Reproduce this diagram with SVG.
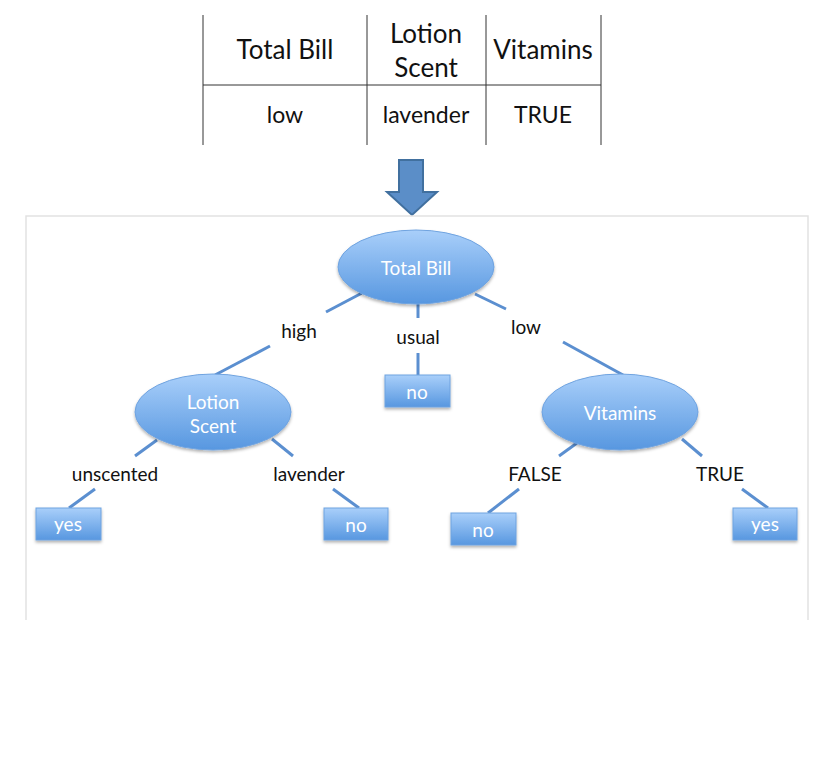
<svg xmlns="http://www.w3.org/2000/svg" width="816" height="764" viewBox="0 0 816 764">
<style>
.tbl{stroke:#333;stroke-width:1;fill:none}
.th{font-family:Lato,"Open Sans",sans-serif;font-size:26px;fill:#111;text-anchor:middle}
.td{font-family:Lato,"Open Sans",sans-serif;font-size:23px;fill:#111;text-anchor:middle}
.frame{stroke:#e2e2e2;stroke-width:1.5;fill:none}
.edge{stroke:#5b8fd0;stroke-width:3;fill:none}
.lbl{font-family:Lato,"Open Sans",sans-serif;font-size:19px;fill:#111;text-anchor:middle}
.nt{font-family:Lato,"Open Sans",sans-serif;font-size:19px;fill:#fff;text-anchor:middle}
.ell{fill:url(#g);stroke:#6fa3e0;stroke-width:1;filter:url(#sh)}
.box{fill:url(#g);stroke:#6fa3e0;stroke-width:1;filter:url(#sh)}
</style>
<defs>
<linearGradient id="g" x1="0" y1="0" x2="0" y2="1">
<stop offset="0" stop-color="#a9cffa"/>
<stop offset="1" stop-color="#5797e0"/>
</linearGradient>
<filter id="sh" x="-20%" y="-20%" width="140%" height="150%">
<feDropShadow dx="0" dy="2" stdDeviation="1.5" flood-color="#000" flood-opacity="0.3"/>
</filter>
</defs>
<rect width="816" height="764" fill="#fff"/>
<g id="table">
<line class="tbl" x1="203" y1="15" x2="203" y2="145"/>
<line class="tbl" x1="367" y1="15" x2="367" y2="145"/>
<line class="tbl" x1="486" y1="15" x2="486" y2="145"/>
<line class="tbl" x1="601" y1="15" x2="601" y2="145"/>
<line class="tbl" x1="203" y1="85" x2="601" y2="85"/>
<text class="th" x="285" y="59">Total Bill</text>
<text class="th" x="426" y="43">Lotion</text>
<text class="th" x="426" y="77">Scent</text>
<text class="th" x="543" y="59">Vitamins</text>
<text class="td" x="285" y="123">low</text>
<text class="td" x="426" y="123">lavender</text>
<text class="td" x="543" y="123">TRUE</text>
</g>
<g id="arrow">
<polygon points="399,160 423,160 423,192 437,192 412,215 387,192 399,192" fill="#5b8ec8" stroke="#41709f" stroke-width="2" stroke-linejoin="miter"/>
</g>
<g id="frame">
<polyline class="frame" points="26,620 26,216 808,216 808,620"/>
</g>
<g id="connectors">
<line class="edge" x1="362" y1="293" x2="326" y2="312"/>
<line class="edge" x1="270" y1="346" x2="215" y2="375"/>
<line class="edge" x1="418" y1="303" x2="418" y2="318"/>
<line class="edge" x1="418" y1="353" x2="418" y2="375"/>
<line class="edge" x1="475" y1="294" x2="506" y2="309"/>
<line class="edge" x1="563" y1="342" x2="623" y2="375"/>
<line class="edge" x1="157" y1="440" x2="135" y2="456"/>
<line class="edge" x1="95" y1="489" x2="69" y2="508"/>
<line class="edge" x1="272" y1="439" x2="293" y2="456"/>
<line class="edge" x1="333" y1="489" x2="359" y2="508"/>
<line class="edge" x1="577" y1="443" x2="559" y2="456"/>
<line class="edge" x1="519" y1="489" x2="488" y2="513"/>
<line class="edge" x1="682" y1="439" x2="702" y2="456"/>
<line class="edge" x1="742" y1="489" x2="768" y2="508"/>
<text class="lbl" x="299" y="338">high</text>
<text class="lbl" x="418" y="344">usual</text>
<text class="lbl" x="526" y="334">low</text>
<text class="lbl" x="115" y="481">unscented</text>
<text class="lbl" x="309" y="481">lavender</text>
<text class="lbl" x="535" y="481">FALSE</text>
<text class="lbl" x="720" y="481">TRUE</text>
</g>
<g id="n-total">
<ellipse class="ell" cx="416" cy="267" rx="78" ry="37"/>
<text class="nt" x="416" y="275">Total Bill</text>
</g>
<g id="n-usual-no">
<rect class="box" x="385" y="375" width="65" height="32"/>
<text class="nt" x="417" y="399">no</text>
</g>
<g id="n-lotion">
<ellipse class="ell" cx="213" cy="412" rx="78" ry="38"/>
<text class="nt" x="213" y="409">Lotion</text>
<text class="nt" x="213" y="433">Scent</text>
</g>
<g id="n-vitamins">
<ellipse class="ell" cx="620" cy="412" rx="78" ry="38"/>
<text class="nt" x="620" y="420">Vitamins</text>
</g>
<g id="n-unscented-yes">
<rect class="box" x="36" y="508" width="65" height="32"/>
<text class="nt" x="68" y="531">yes</text>
</g>
<g id="n-lavender-no">
<rect class="box" x="324" y="508" width="64" height="32"/>
<text class="nt" x="356" y="532">no</text>
</g>
<g id="n-false-no">
<rect class="box" x="451" y="513" width="65" height="32"/>
<text class="nt" x="483" y="537">no</text>
</g>
<g id="n-true-yes">
<rect class="box" x="733" y="508" width="64" height="32"/>
<text class="nt" x="765" y="531">yes</text>
</g>
</svg>
